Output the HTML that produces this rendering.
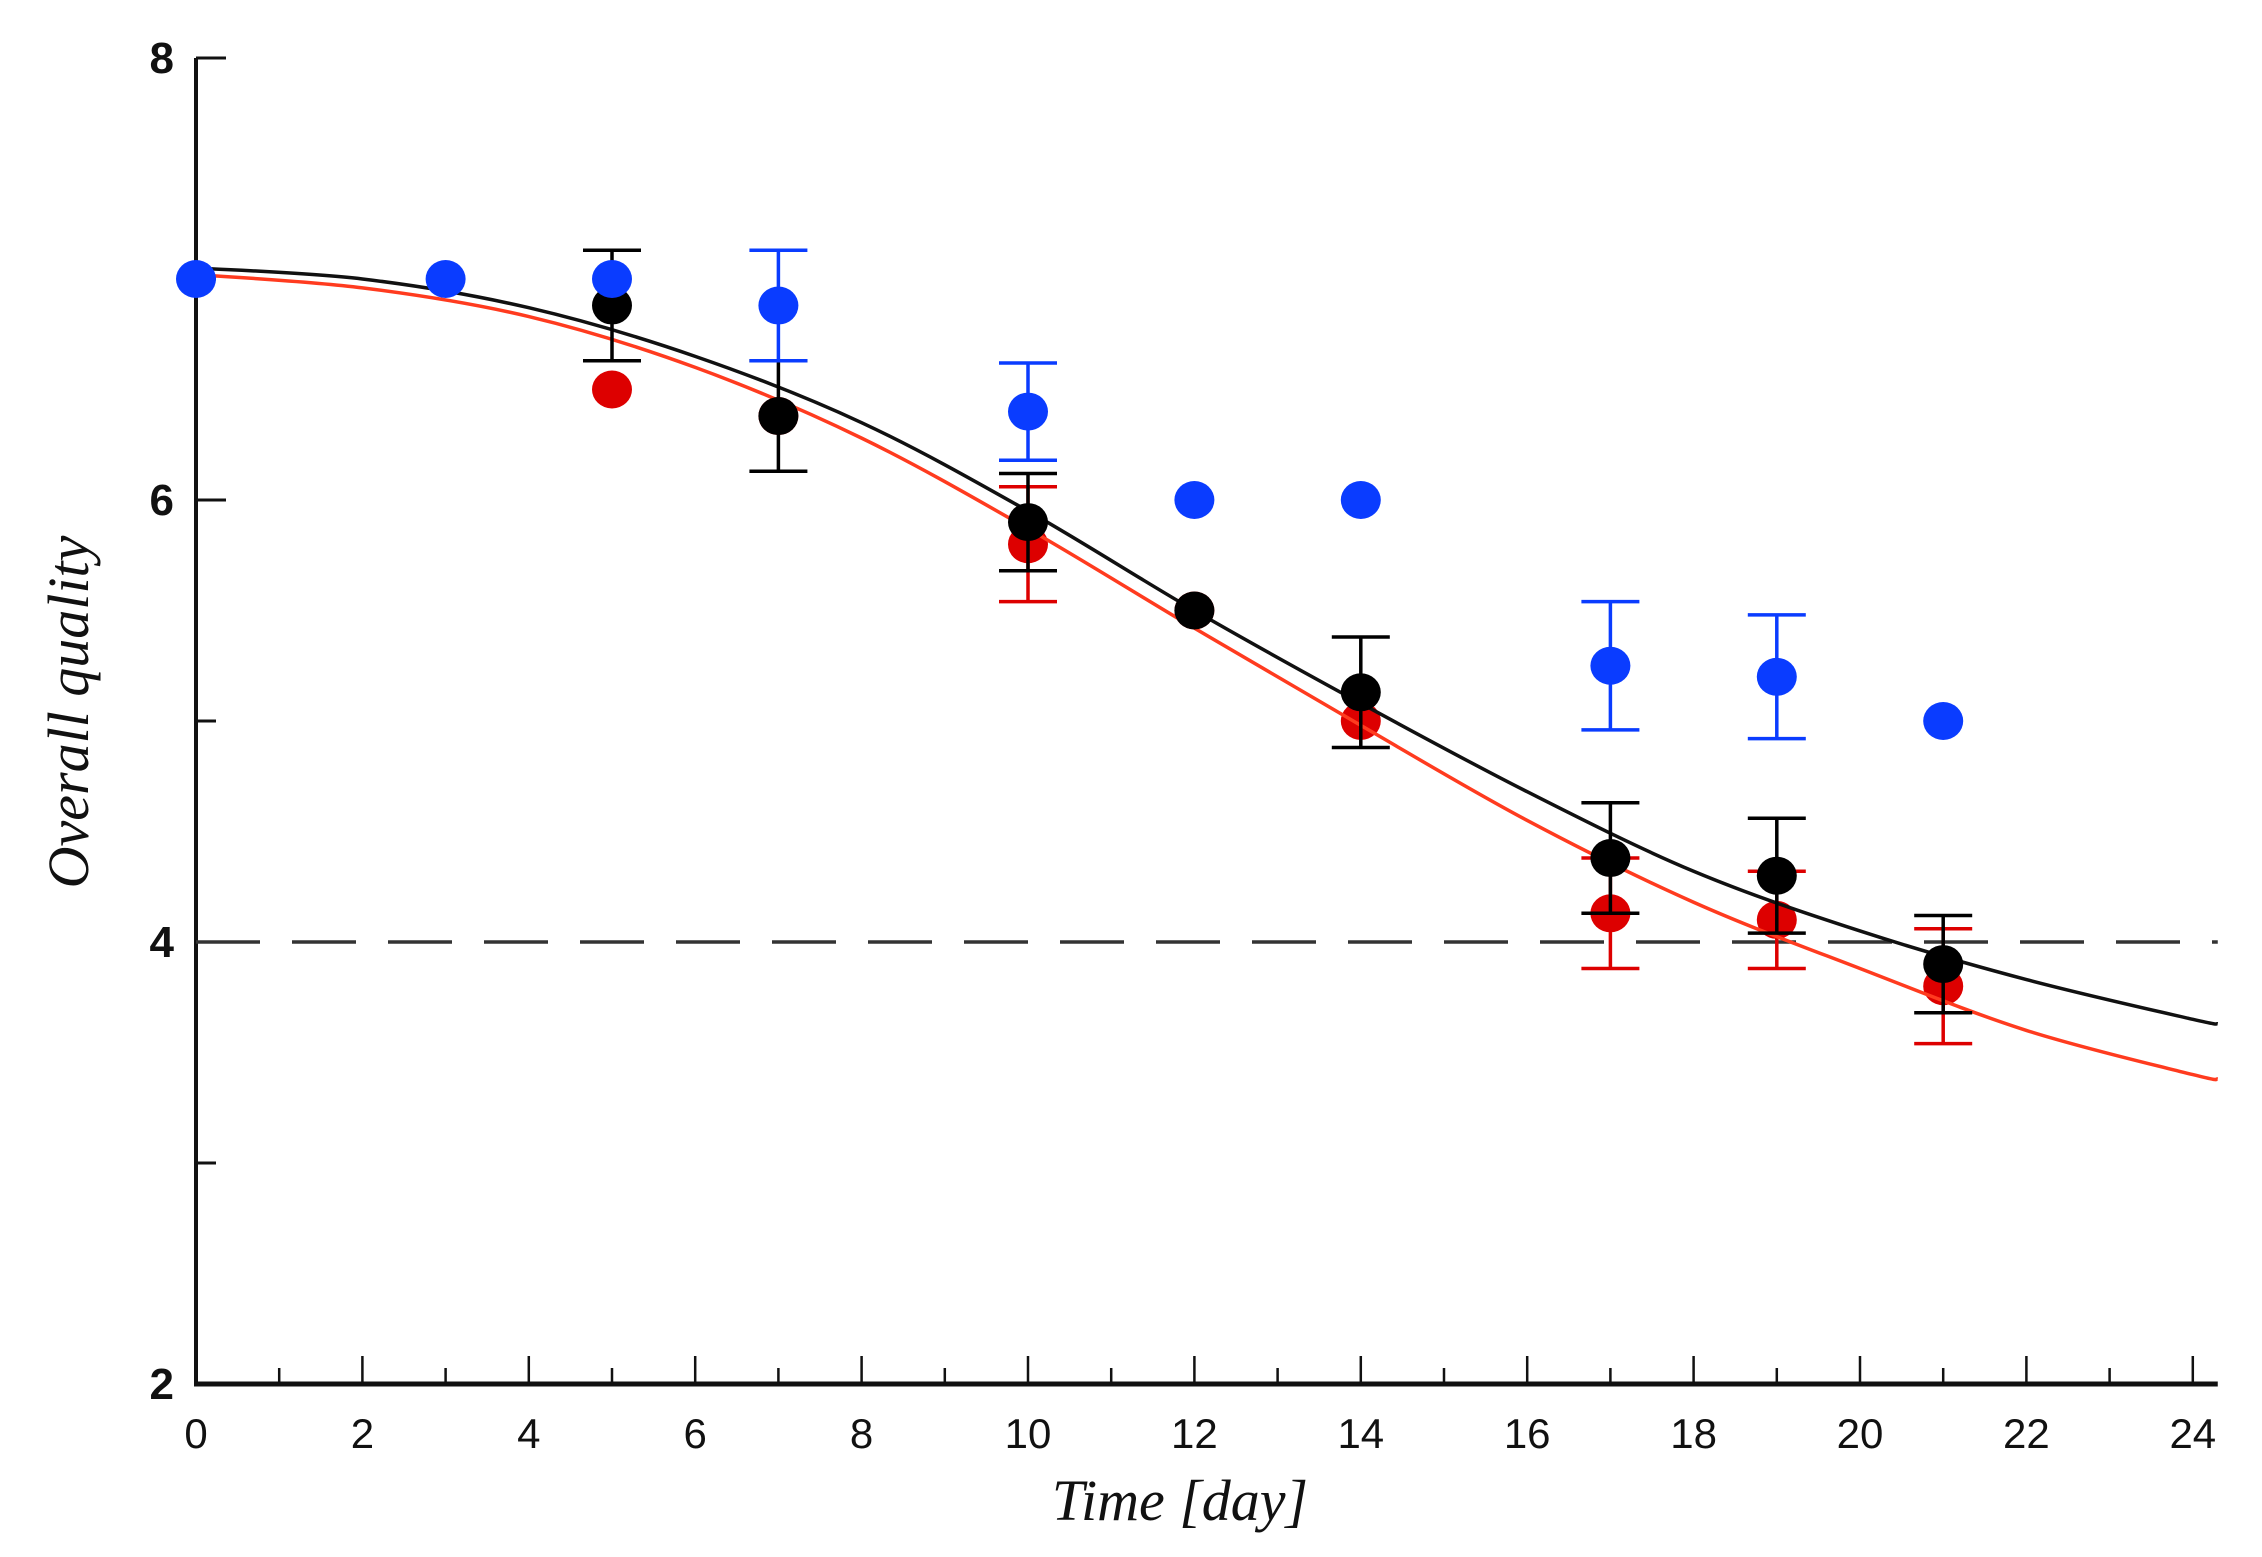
<!DOCTYPE html>
<html><head><meta charset="utf-8"><style>html,body{margin:0;padding:0;background:#fff}svg{display:block}</style></head>
<body>
<svg id="chart" width="2262" height="1557" viewBox="0 0 2262 1557" xmlns="http://www.w3.org/2000/svg"></svg>
<script>
const blueX=[0,3,5,7,10,12,14,17,19,21];
const blueY=[7,7,7,6.88,6.4,6,6,5.25,5.2,5];
const blueE=[0,0,0,0.25,0.22,0,0,0.29,0.28,0];
const blackX=[5,7,10,12,14,17,19,21];
const blackY=[6.88,6.38,5.9,5.5,5.13,4.38,4.3,3.9];
const blackE=[0.25,0.25,0.22,0,0.25,0.25,0.26,0.22];
const redX=[5,7,10,12,14,17,19,21];
const redY=[6.5,6.38,5.8,5.5,5.0,4.13,4.1,3.8];
const redE=[0,0,0.26,0,0,0.25,0.22,0.26];
const curveX=[0,2,4,6,8,10,12,14,16,18,20,22,24,24.3];
const blackCurve=[7.05,7.0,6.87,6.65,6.35,5.95,5.5,5.08,4.68,4.32,4.05,3.83,3.65,3.63];
const redCurve=[7.02,6.96,6.83,6.6,6.28,5.87,5.42,4.98,4.55,4.18,3.88,3.6,3.4,3.38];
const xTicks=[0,2,4,6,8,10,12,14,16,18,20,22,24];
const yTicks=[2,4,6,8];
const threshold=4;

const X0=196,PX=83.2,Y8=58,PY=221;
const sx=d=>X0+d*PX, sy=v=>Y8+(8-v)*PY;
const XEND=sx(24.3), YB=sy(2);
const svg=document.getElementById('chart');
const NS='http://www.w3.org/2000/svg';
function mk(t,a,p){const e=document.createElementNS(NS,t);for(const k in a)e.setAttribute(k,a[k]);(p||svg).appendChild(e);return e;}

const ax=mk('g',{});


mk('line',{x1:X0,y1:sy(8),x2:X0,y2:YB+2,stroke:'#111','stroke-width':4},ax);
mk('line',{x1:X0-2,y1:YB,x2:XEND,y2:YB,stroke:'#111','stroke-width':5},ax);
for(let d=0;d<=24;d++){const L=d%2?16:28;mk('line',{x1:sx(d),y1:YB,x2:sx(d),y2:YB-L,stroke:'#111','stroke-width':2.5},ax);}
xTicks.forEach(d=>{const t=mk('text',{x:sx(d),y:YB+64,'text-anchor':'middle','font-family':'Liberation Sans, sans-serif','font-size':42,fill:'#111'},ax);t.textContent=d;

});
for(let v=2;v<=8;v++){const L=v%2?20:30;mk('line',{x1:X0,y1:sy(v),x2:X0+L,y2:sy(v),stroke:'#111','stroke-width':3},ax);}
yTicks.forEach(v=>{const t=mk('text',{x:X0-22,y:sy(v)+15,'text-anchor':'end','font-family':'Liberation Sans, sans-serif','font-size':44,'font-weight':'bold',fill:'#111'},ax);t.textContent=v;

});
const xt=mk('text',{x:1180,y:1520,'text-anchor':'middle','font-family':'Liberation Serif, serif','font-style':'italic','font-size':58,fill:'#111'});
xt.textContent='Time [day]';


const yt=mk('text',{x:0,y:0,'text-anchor':'middle','font-family':'Liberation Serif, serif','font-style':'italic','font-size':58,fill:'#111',transform:'translate(88,712) rotate(-90)'});
yt.textContent='Overall quality';



const th=mk('line',{x1:X0,y1:sy(threshold),x2:XEND,y2:sy(threshold),stroke:'#333','stroke-width':3.5,'stroke-dasharray':'64 32'});



function curve(ys,color,name){
  const pts=curveX.map((d,i)=>[sx(d),sy(ys[i])]);
  let p='M'+pts[0][0]+','+pts[0][1];
  for(let i=0;i<pts.length-1;i++){const p0=pts[Math.max(0,i-1)],p1=pts[i],p2=pts[i+1],p3=pts[Math.min(pts.length-1,i+2)];
    p+=` C${p1[0]+(p2[0]-p0[0])/6},${p1[1]+(p2[1]-p0[1])/6} ${p2[0]-(p3[0]-p1[0])/6},${p2[1]-(p3[1]-p1[1])/6} ${p2[0]},${p2[1]}`;}
  const e=mk('path',{d:p,fill:'none',stroke:color,'stroke-width':3.5});
  
  
}
function series(xs,ys,es,color,name){
  const g=mk('g',{});
  
  
  xs.forEach((d,i)=>{
    if(es[i]>0){const cx=sx(d),t=sy(ys[i]+es[i]),b=sy(ys[i]-es[i]);
      mk('path',{d:`M${cx},${t}V${b}M${cx-29},${t}H${cx+29}M${cx-29},${b}H${cx+29}`,stroke:color,'stroke-width':3.5,fill:'none'},g);}
    const c=mk('ellipse',{cx:sx(d),cy:sy(ys[i]),rx:20,ry:19,fill:color},g);
    
    
  });
}
series(redX,redY,redE,'#dd0000','red-series');
curve(redCurve,'#ff3b1f','red-fit-curve');
curve(blackCurve,'#111','black-fit-curve');
series(blackX,blackY,blackE,'#000','black-series');
series(blueX,blueY,blueE,'#0a3cff','blue-series');
</script>
</body></html>
